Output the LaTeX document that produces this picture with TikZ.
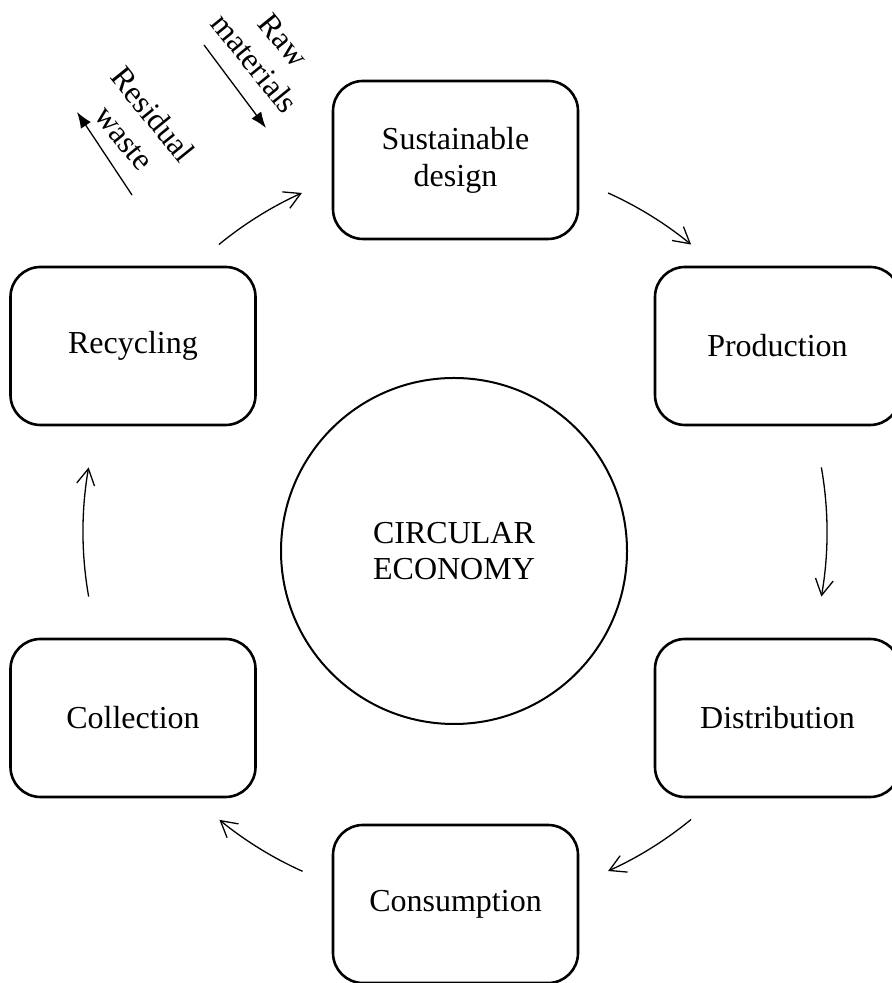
\documentclass[tikz,border=0pt]{standalone}
\usepackage{fontspec}
\setmainfont{Liberation Serif}
\usetikzlibrary{arrows.meta,calc}

\tikzset{
  stage/.style={draw, line width=1.3pt, rounded corners=15pt,
    minimum width=122.5pt, minimum height=79pt, align=center,
    font=\fontsize{16}{18.4}\selectfont},
  hub/.style={draw, circle, line width=1pt, minimum size=173pt,
    align=center, font=\fontsize{16}{18.4}\selectfont},
  flow/.style={line width=0.65pt, -{Straight Barb[length=8pt,width=9pt]}},
  sidelabel/.style={rotate=-51, align=center,
    font=\fontsize{16}{18.4}\selectfont},
  sideflow/.style={line width=0.65pt, -{Latex[length=8pt,width=6pt]}}
}

\begin{document}
\begin{tikzpicture}[x=0.5pt,y=0.5pt]
\useasboundingbox (0,0) rectangle (892,983);

% central hub
\node[hub] (hub) at (454,432) {CIRCULAR\\ECONOMY};

% the six stages of the cycle
\coordinate (ring) at (455,451);
\node[stage] (des) at (455.5,823) {Sustainable\\design};
\node[stage] (pro) at (777.5,637) {Production};
\node[stage] (dis) at (777.5,265) {Distribution};
\node[stage] (con) at (455.5,79)  {Consumption};
\node[stage] (col) at (133,265)   {Collection};
\node[stage] (rec) at (133,637)   {Recycling};

% arcs of the cycle, all on one circle around the ring centre
\draw[flow] ($(ring)+(129.4:186pt)$) arc[start angle=129.4, end angle=114.3, radius=186pt];
\draw[flow] ($(ring)+(65.7:186pt)$)  arc[start angle=65.7,  end angle=50.6,  radius=186pt];
\draw[flow] ($(ring)+(10:186pt)$)    arc[start angle=10,    end angle=-10,   radius=186pt];
\draw[flow] ($(ring)+(-50.6:186pt)$) arc[start angle=-50.6, end angle=-65.7, radius=186pt];
\draw[flow] ($(ring)+(245.8:186pt)$) arc[start angle=245.8, end angle=230.7, radius=186pt];
\draw[flow] ($(ring)+(190:186pt)$)   arc[start angle=190,   end angle=170,   radius=186pt];

% inputs and outputs of the cycle
\node[sidelabel] (raw) at (269,931) {Raw\\materials};
\node[sidelabel] (res) at (139,857) {Residual\\waste};
\coordinate (rawA) at (204,938);
\coordinate (rawB) at (266,855);
\coordinate (resA) at (132,788);
\coordinate (resB) at (77,871);
\draw[sideflow] (rawA) -- (rawB);
\draw[sideflow] (resA) -- (resB);
\end{tikzpicture}
\end{document}
